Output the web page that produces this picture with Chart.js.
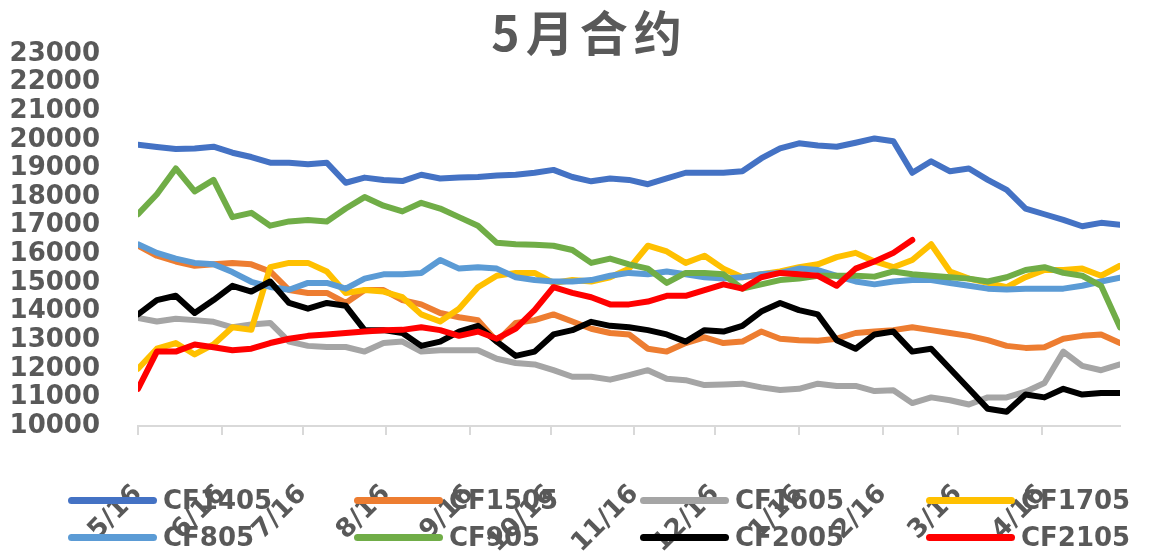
<!DOCTYPE html>
<html>
<head>
<meta charset="utf-8">
<script src="https://cdn.jsdelivr.net/npm/chart.js@4/dist/chart.umd.min.js"></script>
<style>
    html, body { margin: 0; padding: 0; background: #fff; }
    #wrap { position: relative; width: 1173px; height: 553px; }
    #legend {
        position: absolute; left: 68px; top: 482px;
        display: grid; grid-template-columns: repeat(4, 286px);
    }
    .item { display: flex; align-items: center; height: 37px; }
    .sw { width: 89px; height: 7px; border-radius: 4px; margin-right: 6px; }
    .lb { font: bold 26px 'DejaVu Sans'; color: #595959; line-height: 37px; }
</style>
</head>
<body>
<div id="wrap">
    <canvas id="chart" width="1173" height="553"></canvas>
    <div id="legend"></div>
</div>
<script>
// дни от 5/16 (шаг неделя)
const days = [0,7,14,21,28,35,42,49,56,63,70,77,84,91,98,105,112,119,126,133,140,147,154,161,168,175,182,189,196,203,210,217,224,231,238,245,252,259,266,273,280,287,294,301,308,315,322,329,336,343,350,357,364];

// подписи оси X
const tickDays = [0,31,61,92,123,153,184,214,245,276,304,335];
const tickLabels = ['5/16','6/16','7/16','8/16','9/16','10/16','11/16','12/16','1/16','2/16','3/16','4/16'];

const cf1405 = [19830,19750,19680,19700,19760,19550,19400,19200,19200,19150,19200,18500,18680,18600,18560,18780,18650,18680,18700,18750,18780,18850,18950,18700,18550,18650,18600,18450,18650,18850,18850,18850,18900,19350,19700,19880,19800,19760,19900,20050,19950,18850,19250,18900,19000,18600,18250,17600,17400,17200,16980,17100,17030];
const cf1505 = [16300,15950,15750,15600,15650,15700,15650,15400,14750,14650,14650,14300,14750,14750,14400,14250,13950,13800,13700,12950,13600,13700,13900,13650,13400,13250,13200,12700,12600,12900,13100,12900,12950,13300,13050,13000,12980,13050,13250,13300,13350,13450,13350,13250,13150,13000,12800,12730,12750,13050,13150,13200,12900];
const cf1605 = [13780,13650,13750,13700,13640,13450,13550,13600,12950,12800,12760,12760,12600,12900,12950,12600,12650,12650,12650,12350,12200,12150,11950,11720,11720,11620,11780,11950,11650,11600,11430,11450,11480,11350,11260,11300,11480,11400,11400,11220,11250,10800,11000,10900,10750,11000,11000,11200,11500,12600,12100,11950,12150];
const cf1705 = [12000,12700,12900,12500,12850,13450,13360,15550,15700,15700,15400,14650,14750,14700,14500,13900,13650,14100,14850,15250,15350,15350,15000,15100,15050,15200,15500,16300,16100,15700,15950,15500,15200,15300,15400,15550,15650,15900,16050,15750,15550,15800,16350,15400,15150,15000,14850,15200,15450,15450,15500,15250,15600];
const cf805  = [16350,16050,15850,15700,15650,15380,15040,14860,14760,15000,15000,14800,15150,15300,15300,15350,15800,15500,15550,15500,15200,15100,15050,15050,15100,15250,15350,15300,15400,15300,15200,15150,15200,15300,15350,15500,15450,15250,15050,14950,15050,15100,15100,15000,14900,14800,14770,14800,14800,14800,14900,15050,15180];
const cf905  = [17400,18100,19000,18200,18600,17300,17450,17000,17150,17200,17150,17600,18000,17700,17500,17800,17600,17300,17000,16400,16350,16330,16300,16150,15700,15850,15650,15500,15000,15350,15350,15300,14800,14950,15100,15150,15250,15250,15250,15220,15400,15300,15250,15200,15150,15050,15200,15450,15550,15350,15250,14900,13450];
const cf2005 = [13900,14400,14550,13950,14400,14900,14700,15050,14300,14100,14300,14200,13350,13350,13250,12800,12950,13300,13500,12950,12450,12600,13200,13350,13640,13500,13450,13350,13200,12950,13350,13300,13500,14000,14300,14050,13900,13000,12700,13200,13300,12600,12700,12000,11300,10600,10500,11100,11000,11300,11100,11150,11150];
const cf2105 = [11300,12600,12600,12850,12750,12650,12700,12900,13050,13150,13200,13250,13300,13350,13360,13450,13350,13150,13300,13050,13400,14050,14850,14650,14500,14250,14250,14350,14550,14550,14750,14950,14800,15200,15350,15300,15250,14900,15500,15750,16050,16500,null,null,null,null,null,null,null,null,null,null,null];

const seriesNames  = ['CF1405','CF1505','CF1605','CF1705','CF805','CF905','CF2005','CF2105'];
const seriesValues = [cf1405, cf1505, cf1605, cf1705, cf805, cf905, cf2005, cf2105];
const seriesColors = ['#4472C4','#ED7D31','#A5A5A5','#FFC000','#5B9BD5','#70AD47','#000000','#FF0000'];

const titleText = '5月合约';
const textColor = '#595959';
const tickFont = { family: 'DejaVu Sans', size: 26, weight: 'bold' };

// легенда в HTML (сетка 4 колонки как в исходнике)
const legendEl = document.getElementById('legend');
seriesNames.forEach((name, i) => {
    const item = document.createElement('div');
    item.className = 'item';
    item.innerHTML = '<span class="sw" style="background:' + seriesColors[i] + '"></span><span class="lb">' + name + '</span>';
    legendEl.appendChild(item);
});

// заголовок по центру всего холста, с разрядкой
const wideTitle = {
    id: 'wideTitle',
    afterDraw(chart) {
        const ctx = chart.ctx;
        ctx.save();
        ctx.font = 'bold 48px "Noto Sans CJK SC"';
        ctx.fillStyle = textColor;
        ctx.textAlign = 'center';
        ctx.textBaseline = 'middle';
        if ('letterSpacing' in ctx) ctx.letterSpacing = '6px';
        ctx.fillText(titleText, chart.width / 2 + 3, 33);
        ctx.restore();
    }
};

new Chart(document.getElementById('chart').getContext('2d'), {
    type: 'line',
    data: {
        labels: days,
        datasets: seriesNames.map((name, i) => ({
            label: name,
            data: seriesValues[i],
            borderColor: seriesColors[i],
            backgroundColor: seriesColors[i],
            borderWidth: 6,
            pointRadius: 0,
            tension: 0,
            borderJoinStyle: 'round',
            borderCapStyle: 'round',
            spanGaps: false,
            order: seriesNames.length - i  // последние серии поверх
        }))
    },
    plugins: [wideTitle],
    options: {
        responsive: false,
        animation: false,
        layout: { padding: { top: 54, right: 53, bottom: 0, left: 0 } },
        plugins: {
            legend: { display: false },
            tooltip: { enabled: false },
            title: { display: false }
        },
        scales: {
            x: {
                type: 'linear',
                min: 0,
                max: 364,
                afterBuildTicks: s => { s.ticks = tickDays.map(v => ({ value: v })); },
                afterFit: s => { s.height = 127; },
                ticks: {
                    autoSkip: false,
                    minRotation: 45,
                    maxRotation: 45,
                    padding: 44,
                    color: textColor,
                    font: tickFont,
                    callback: (v, idx) => tickLabels[idx]
                },
                grid: { drawOnChartArea: false, drawTicks: true, tickLength: 9, color: '#D9D9D9', lineWidth: 2 },
                border: { color: '#D9D9D9', width: 2 }
            },
            y: {
                min: 10000,
                max: 23000,
                afterFit: s => { s.width = 138; },
                ticks: {
                    stepSize: 1000,
                    maxTicksLimit: 20,
                    autoSkip: false,
                    padding: 38,
                    color: textColor,
                    font: tickFont,
                    callback: v => String(v)
                },
                grid: { display: false, drawTicks: false },
                border: { display: false }
            }
        }
    }
});
</script>
</body>
</html>
